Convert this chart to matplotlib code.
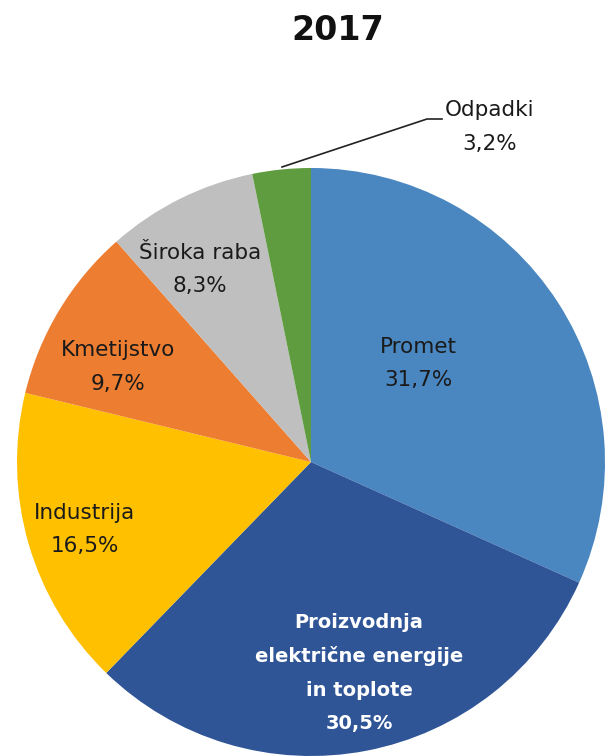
import matplotlib
matplotlib.use('Agg')
import matplotlib.pyplot as plt

# Podatki
kategorije = ['Promet', 'Proizvodnja\nelektrične energije\nin toplote', 'Industrija',
              'Kmetijstvo', 'Široka raba', 'Odpadki']
deleži = [31.7, 30.5, 16.5, 9.7, 8.3, 3.2]
barve = ['#4A86BF', '#2F5597', '#FFC000', '#ED7D31', '#BFBFBF', '#5E9C3F']
oznake = ['31,7%', '30,5%', '16,5%', '9,7%', '8,3%', '3,2%']

W, H = 608, 756

fig = plt.figure(figsize=(W / 100, H / 100), dpi=100)
ax = fig.add_axes([0, 0, 1, 1])

cx, cy, r = 311, H - 462, 294
ax.pie(deleži, colors=barve, startangle=90, counterclock=False,
       center=(cx, cy), radius=r, frame=True,
       wedgeprops=dict(linewidth=0))
ax.set_xlim(0, W)
ax.set_ylim(0, H)
ax.set_aspect('equal')
ax.axis('off')

# polozaji oznak (prva vrstica, v pikslih slike)
pos = [(418, 347), (359, 623), (85, 513), (118, 350), (200, 253), (490, 110)]
barva_teksta = ['#1a1a1a', 'white', '#1a1a1a', '#1a1a1a', '#1a1a1a', '#1a1a1a']
razmik = 33.5
for i in range(len(kategorije)):
    x, y = pos[i]
    vrstice = kategorije[i].split('\n') + [oznake[i]]
    for k, v in enumerate(vrstice):
        if i == 1:
            ax.text(x, H - (y + k * razmik), v, ha='center', va='center',
                    fontsize=14, color=barva_teksta[i], fontweight='bold',
                    family='DejaVu Sans')
        else:
            ax.text(x, H - (y + k * razmik), v, ha='center', va='center',
                    fontsize=15.5, color=barva_teksta[i], family='DejaVu Sans')

# vodilna crta za Odpadki
ax.plot([282, 427, 442], [H - 167, H - 119, H - 119], color='#222222', lw=1.2)

ax.text(338, H - 31, '2017', ha='center', va='center', fontsize=24, fontweight='bold',
        color='#111111', family='DejaVu Sans')

fig.savefig('out.png', dpi=100)
